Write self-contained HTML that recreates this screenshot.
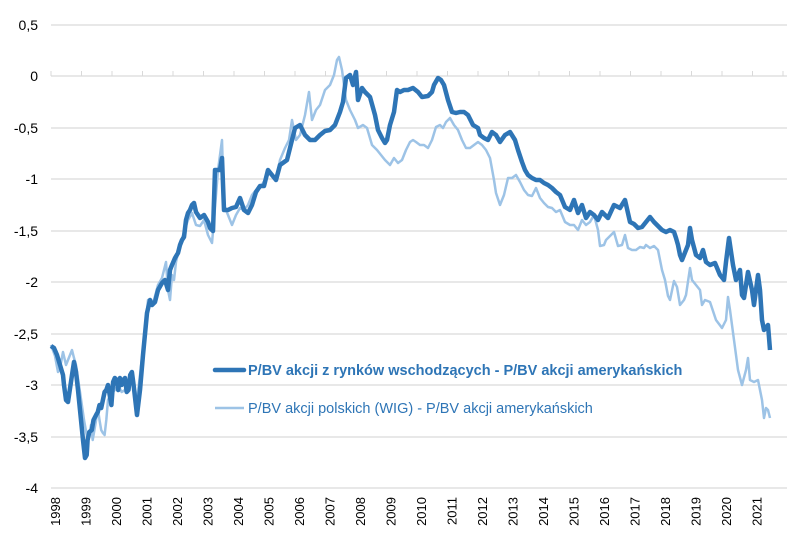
<!DOCTYPE html>
<html><head><meta charset="utf-8"><style>
html,body{margin:0;padding:0;background:#fff;}
svg{display:block;font-family:"Liberation Sans",sans-serif;}
</style></head><body>
<svg width="800" height="547" viewBox="0 0 800 547">
<g stroke="#d9d9d9" stroke-width="1.3">
<line x1="51" x2="787" y1="25" y2="25"/>
<line x1="51" x2="787" y1="128" y2="128"/>
<line x1="51" x2="787" y1="179" y2="179"/>
<line x1="51" x2="787" y1="231" y2="231"/>
<line x1="51" x2="787" y1="282" y2="282"/>
<line x1="51" x2="787" y1="334" y2="334"/>
<line x1="51" x2="787" y1="385" y2="385"/>
<line x1="51" x2="787" y1="437" y2="437"/>
<line x1="51" x2="787" y1="488" y2="488"/>
<line x1="51" x2="787" y1="76" y2="76"/>
</g>
<g stroke="#d9d9d9" stroke-width="1">
<path d="M51 71V76M81.5 71V76M112 71V76M142.5 71V76M173 71V76M203.5 71V76M234 71V76M264.5 71V76M295 71V76M325.5 71V76M356 71V76M386.5 71V76M417 71V76M447.5 71V76M478 71V76M508.5 71V76M539 71V76M569.5 71V76M600 71V76M630.5 71V76M661 71V76M691.5 71V76M722 71V76M752.5 71V76M783 71V76"/>
</g>
<g font-size="14" fill="#000" text-anchor="end">
<text x="38" y="30">0,5</text><text x="38" y="81">0</text><text x="38" y="133">-0,5</text>
<text x="38" y="184">-1</text><text x="38" y="236">-1,5</text><text x="38" y="287">-2</text>
<text x="38" y="339">-2,5</text><text x="38" y="390">-3</text><text x="38" y="442">-3,5</text>
<text x="38" y="493">-4</text>
</g>
<g font-size="13" fill="#000" text-anchor="end">
<text transform="translate(60,497) rotate(-90)">1998</text>
<text transform="translate(90.5,497) rotate(-90)">1999</text>
<text transform="translate(121,497) rotate(-90)">2000</text>
<text transform="translate(151.5,497) rotate(-90)">2001</text>
<text transform="translate(182,497) rotate(-90)">2002</text>
<text transform="translate(212.5,497) rotate(-90)">2003</text>
<text transform="translate(243,497) rotate(-90)">2004</text>
<text transform="translate(273.5,497) rotate(-90)">2005</text>
<text transform="translate(304,497) rotate(-90)">2006</text>
<text transform="translate(334.5,497) rotate(-90)">2007</text>
<text transform="translate(365,497) rotate(-90)">2008</text>
<text transform="translate(395.5,497) rotate(-90)">2009</text>
<text transform="translate(426,497) rotate(-90)">2010</text>
<text transform="translate(456.5,497) rotate(-90)">2011</text>
<text transform="translate(487,497) rotate(-90)">2012</text>
<text transform="translate(517.5,497) rotate(-90)">2013</text>
<text transform="translate(548,497) rotate(-90)">2014</text>
<text transform="translate(578.5,497) rotate(-90)">2015</text>
<text transform="translate(609,497) rotate(-90)">2016</text>
<text transform="translate(639.5,497) rotate(-90)">2017</text>
<text transform="translate(670,497) rotate(-90)">2018</text>
<text transform="translate(700.5,497) rotate(-90)">2019</text>
<text transform="translate(731,497) rotate(-90)">2020</text>
<text transform="translate(761.5,497) rotate(-90)">2021</text>
</g>
<polyline fill="none" stroke="#9DC3E6" stroke-width="2.5" stroke-linejoin="round" points="51,345 55,356 58,372 60,368 63,352 66,365 70,355 72,350 74,358 76,365 80,392 84,420 87.6,440 89.3,435 91,425 92.7,440 96.1,420 97.8,408 99.5,420 101.2,430 102.9,433 104.6,435 106.3,420 108,400 110.6,395 113.1,392 114.8,390 118.2,385 121.6,392 125,390 126.7,385 130.2,378 131.9,380 135.3,395 137,400 140,375 144,340 148,300 150,305 154,300 158,285 162,278 166,262 168,290 170,300 172,275 174,280 176,262 180,245 184,232 188,220 192,213 196,225 200,226 204,220 208,235 212,243 214,220 218,170 222,140 224,205 228,215 232,225 236,215 240,208 244,210 248,205 252,195 256,190 260,188 266,178 270,172 276,180 280,160 285,148 289,140 292,120 296,140 300,135 305,115 309,92 312,120 316,110 320,105 325,90 330,85 334,75 337,60 339,57 342,70 346,100 350,110 355,120 358,128 363,125 367,128 372,145 377,150 381,155 385,160 390,165 394,158 398,163 402,160 406,150 410,142 413,140 416,142 420,145 424,145 428,148 432,140 436,127 440,125 443,128 446,122 450,118 454,125 458,130 462,140 466,148 470,148 474,145 478,142 482,145 486,150 490,158 494,180 496,193 500,205 504,195 508,178 512,178 516,175 520,182 524,190 528,195 532,196 536,188 540,198 544,203 548,207 552,208 556,212 560,210 565,222 570,225 574,225 578,230 582,220 586,225 590,222 594,215 598,230 600,246 604,245 606,240 610,236 614,232 618,246 622,245 625,235 628,248 632,250 636,250 640,247 644,248 646,245 650,248 654,246 658,250 662,270 665,280 668,296 670,300 674,281 677,287 680,305 684,300 686,295 690,268 692,280 696,285 700,290 702,305 705,300 710,302 716,320 722,328 726,320 728,297 730,310 734,340 738,370 742,385 746,370 748,358 750,380 754,382 758,380 762,400 764,418 766,408 768,410 770,418"/>
<polyline fill="none" stroke="#2E75B6" stroke-width="4.5" stroke-linejoin="round" points="51,346 54,348 57,355 60,365 63,375 64,385 66,400 68,402 72,375 74,362 76,372 78,390 80,410 83,440 85,458 86.7,455 87.6,440 89.3,432 91.8,430 93.5,420 96.1,415 97.8,412 99.5,405 101.2,408 102.9,400 104.6,392 106.3,390 108,385 109.7,395 111.4,405 113.1,382 114.8,378 116.5,380 118.2,390 119.9,378 121.6,385 123.3,380 125,378 126.7,392 128.5,390 130.2,375 131.9,372 133.6,385 135.3,400 137,415 140,390 143,355 147,313 150,300 152,305 155,302 158,290 162,283 165,280 168,290 170,270 172,265 175,258 178,253 180,245 182,240 184,237 186,220 188,213 190,210 192,205 194,203 196,212 200,218 204,215 208,222 210,228 213,231 215,170 217,170 220,170 222,158 224,210 228,210 232,208 236,207 240,198 244,210 248,213 252,205 256,192 260,186 264,186 268,170 272,175 276,180 280,165 287,160 295,128 300,125 305,135 310,140 315,140 320,135 325,131 330,130 335,125 340,112 343,102 346,78 350,75 353,85 356,72 358,100 362,88 365,92 370,97 375,115 378,130 382,138 385,143 387,140 390,125 394,112 397,90 400,92 404,90 408,90 413,88 418,92 422,97 428,96 432,92 434,85 438,78 441,80 444,85 448,100 452,112 456,113 460,112 464,112 468,115 473,125 478,128 480,135 484,138 488,140 492,132 496,135 500,142 505,135 510,132 515,140 518,150 522,162 525,170 528,175 532,178 536,180 540,180 544,183 548,185 552,188 556,192 560,195 565,207 570,210 574,200 578,213 582,205 586,218 590,212 594,215 598,220 602,212 608,218 614,205 620,208 625,200 630,222 634,224 638,228 642,227 646,222 650,217 654,222 658,226 662,230 666,232 670,230 674,232 676,238 678,245 680,255 682,260 684,255 688,245 690,228 692,240 696,255 700,258 703,250 706,262 710,265 715,263 720,275 724,280 726,262 729,238 733,265 736,280 740,270 742,295 744,298 748,272 752,290 754,305 756,290 758,275 760,290 762,320 764,330 768,325 770,350"/>
<line x1="215" x2="244" y1="370" y2="370" stroke="#2E75B6" stroke-width="4.5" stroke-linecap="round"/>
<text x="248" y="375" font-size="14.5" font-weight="bold" fill="#2E75B6">P/BV akcji z rynków wschodzących - P/BV akcji amerykańskich</text>
<line x1="215" x2="244" y1="408" y2="408" stroke="#9DC3E6" stroke-width="2.5"/>
<text x="248" y="413" font-size="14.5" fill="#2E75B6">P/BV akcji polskich (WIG) - P/BV akcji amerykańskich</text>
</svg>
</body></html>
